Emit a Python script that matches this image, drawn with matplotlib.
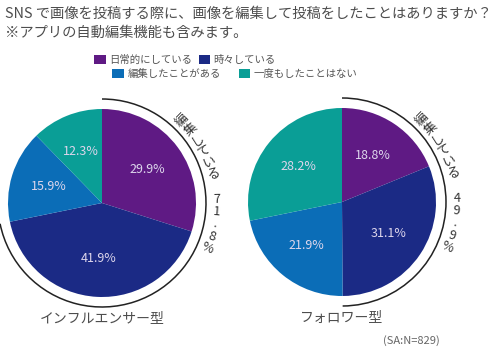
import numpy as np
import matplotlib
matplotlib.use("Agg")
import matplotlib.pyplot as plt
from matplotlib.patches import Arc, Patch

plt.rcParams['font.family'] = ['Noto Sans CJK JP', 'DejaVu Sans']

# data
categories = ["日常的にしている", "時々している", "編集したことがある", "一度もしたことはない"]
influencer = [29.9, 41.9, 15.9, 12.3]
follower = [18.8, 31.1, 21.9, 28.2]
group_names = ["インフルエンサー型", "フォロワー型"]
colors = ["#5f1a84", "#1b2a85", "#0b6db7", "#0a9e96"]

title1 = "SNS で画像を投稿する際に、画像を編集して投稿をしたことはありますか？"
title2 = "※アプリの自動編集機能も含みます。"
note = "(SA:N=829)"

H = 353
fig = plt.figure(figsize=(5, 3.53), dpi=100)
ax = fig.add_axes([0, 0, 1, 1])

txt_grey = "#4d4d4d"


def curved_text(ax, s, cx, cy, r, start, step):
    # vertical-style text running clockwise along a circle (angles from top)
    for i, ch in enumerate(s):
        th = start + i * step
        t = np.radians(th)
        x = cx + r * np.sin(t)
        y = cy + r * np.cos(t)
        ax.text(x, y, ch, rotation=90 - th,
                rotation_mode='anchor', ha='center', va='center',
                fontsize=9.3, color="#333333")


def draw_group(ax, values, cx, cy, name):
    wedges, _ = ax.pie(values, colors=colors, startangle=90, counterclock=False,
                       center=(cx, cy), radius=94,
                       wedgeprops=dict(linewidth=0))
    # percent labels
    ang = 90
    for v in values:
        mid = np.radians(ang - v * 3.6 / 2)
        ax.text(cx + 56 * np.cos(mid), cy + 56 * np.sin(mid), f"{v}%",
                ha='center', va='center', fontsize=9, color="#ddd6ec")
        ang -= v * 3.6
    edited = round(values[0] + values[1], 1)
    ax.add_patch(Arc((cx, cy), 208, 208, theta1=90 - edited * 3.6, theta2=90,
                     color="#222222", lw=1.1))
    curved_text(ax, f"編集している {edited}%", cx, cy, 115, 44, 6.3)
    ax.text(cx, H - 318, name, ha='center', va='center', fontsize=10, color=txt_grey)
    return wedges


w = draw_group(ax, influencer, 102, H - 203, group_names[0])
draw_group(ax, follower, 342, H - 202, group_names[1])

ax.text(5, H - 14, title1, ha='left', va='center', fontsize=10.3, color=txt_grey)
ax.text(5, H - 33, title2, ha='left', va='center', fontsize=10.3, color=txt_grey)
ax.text(440, H - 341, note, ha='right', va='center', fontsize=8, color="#666666")

handles = [Patch(facecolor=c, edgecolor='none') for c in colors]
leg_kw = dict(frameon=False, fontsize=7.5, handlelength=1.1, handleheight=0.9,
              handletextpad=0.35, borderpad=0, borderaxespad=0, labelcolor="#555555")
leg1 = ax.legend(handles[:2], categories[:2], ncol=2, loc='center',
                 bbox_to_anchor=(185, H - 60), bbox_transform=ax.transData,
                 columnspacing=0.6, **leg_kw)
ax.add_artist(leg1)
ax.legend(handles[2:], categories[2:], ncol=2, loc='center',
          bbox_to_anchor=(235, H - 74), bbox_transform=ax.transData,
          columnspacing=1.7, **leg_kw)

ax.set_xlim(0, 500)
ax.set_ylim(0, H)
ax.set_aspect('equal')
ax.axis('off')

fig.savefig("out.png", dpi=100, facecolor='white')
